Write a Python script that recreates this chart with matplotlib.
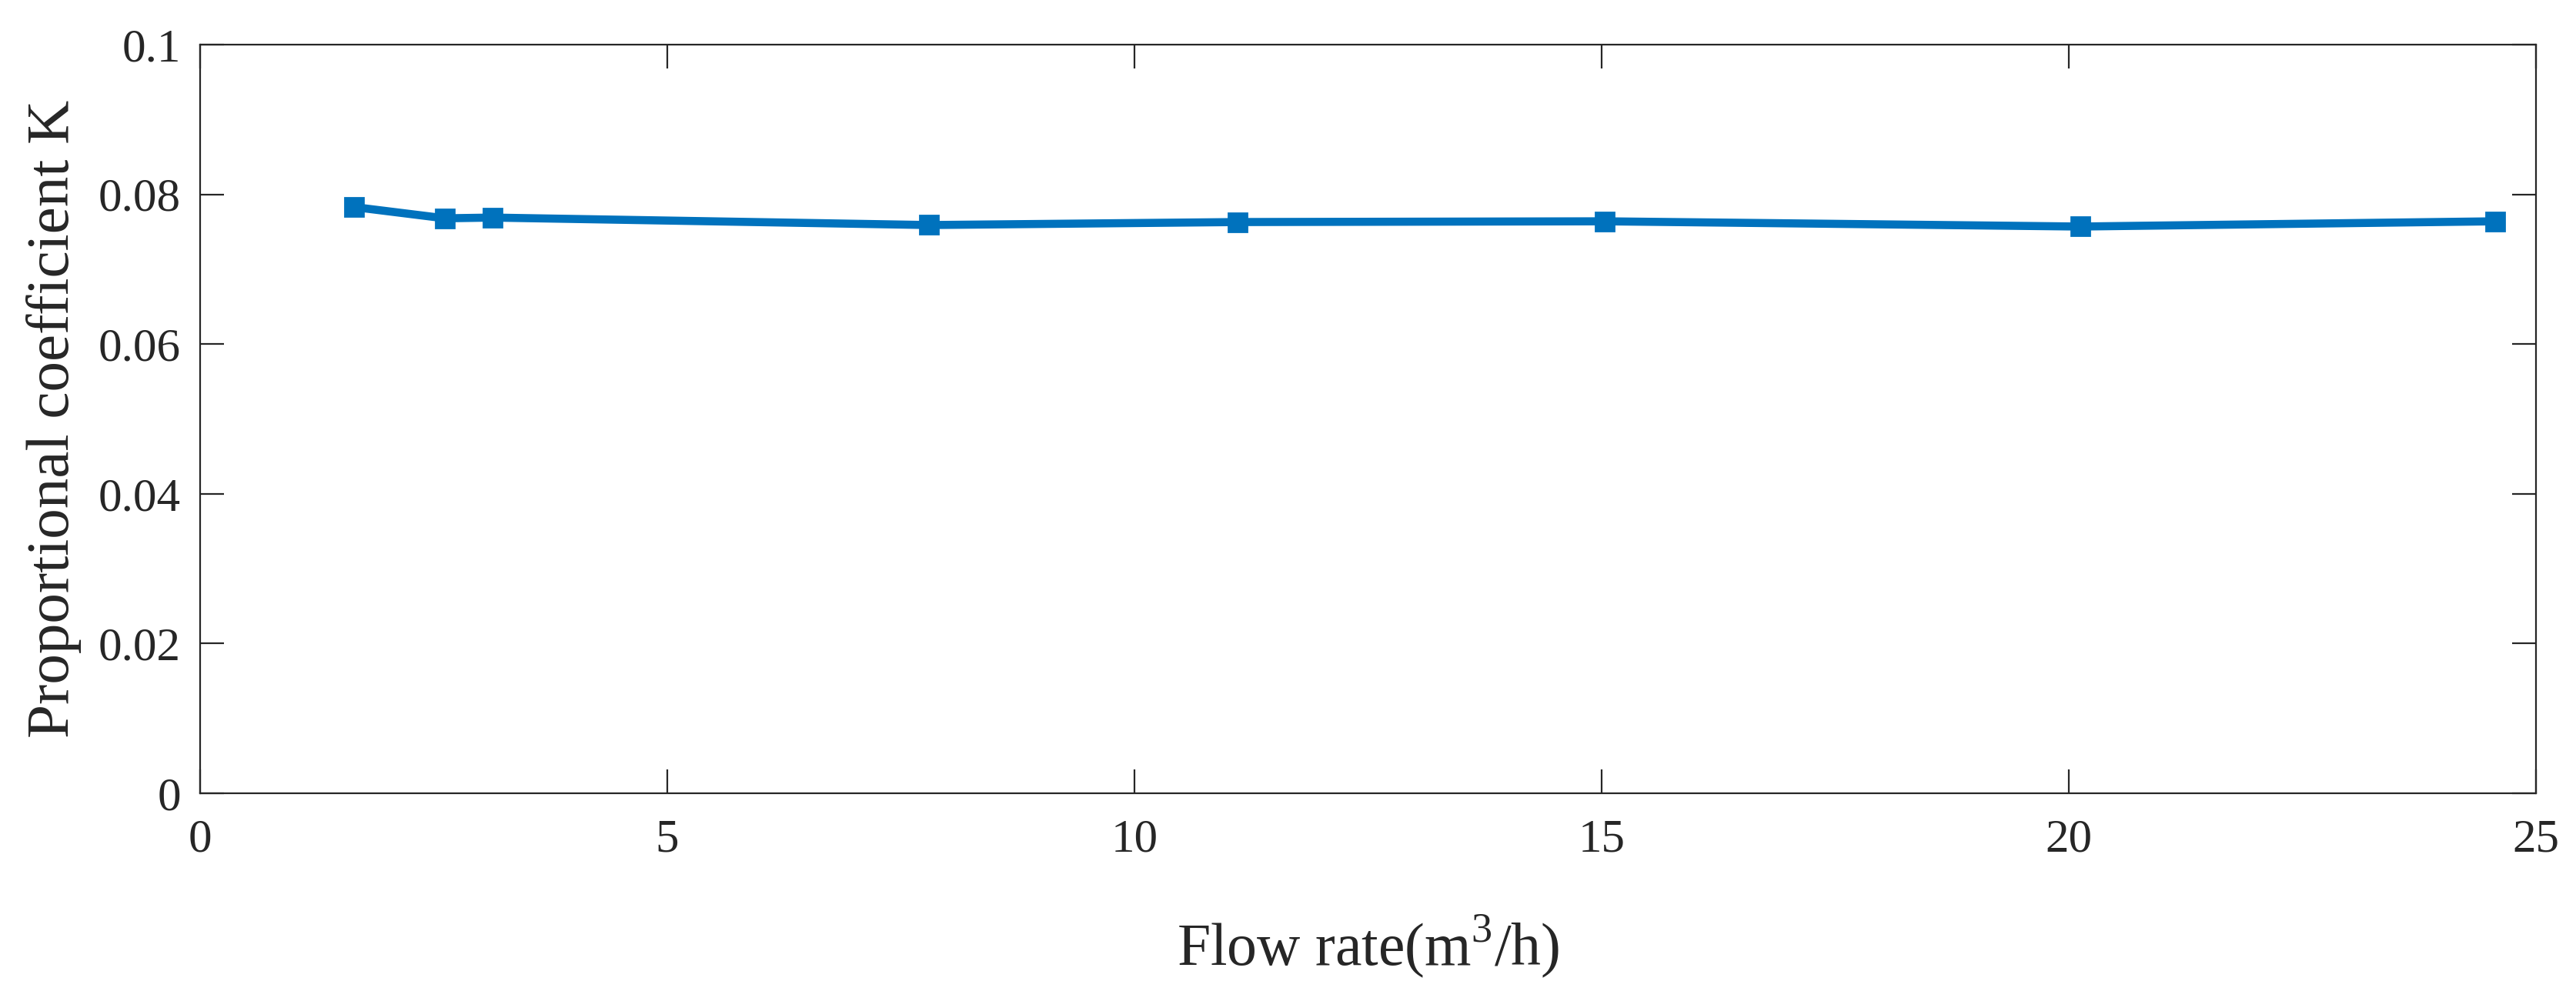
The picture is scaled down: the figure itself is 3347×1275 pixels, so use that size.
import matplotlib
matplotlib.use("Agg")
import matplotlib.pyplot as plt

# Flow rate (m3/h) and proportional coefficient K.
flow_rate = [1.65, 2.62, 3.13, 7.8, 11.1, 15.03, 20.12, 24.56]
coeff_k = [0.0783, 0.0768, 0.0769, 0.0759, 0.0763, 0.0764, 0.0757, 0.0764]

x_ticks = [0, 5, 10, 15, 20, 25]
y_ticks = [0, 0.02, 0.04, 0.06, 0.08, 0.1]
y_tick_labels = ["0", "0.02", "0.04", "0.06", "0.08", "0.1"]

plt.rcParams["font.family"] = ["Liberation Serif", "DejaVu Serif"]
plt.rcParams["mathtext.fontset"] = "custom"
plt.rcParams["mathtext.rm"] = "Liberation Serif"

fig = plt.figure(figsize=(16.74, 6.375), dpi=200)
ax = fig.add_axes([260 / 3348, 1 - 1031 / 1275, (3295 - 260) / 3348,
                   (1031 - 58) / 1275])

# Blue line with square markers, MATLAB default colour.
ax.plot(flow_rate, coeff_k, color="#0072BD", lw=3.8, marker="s",
        markersize=8.5, zorder=3)

ax.set_xlim(0, 25)
ax.set_ylim(0, 0.1)
ax.set_xticks(x_ticks)
ax.set_yticks(y_ticks)
ax.set_yticklabels(y_tick_labels)

# Box with inward ticks on all sides.
for side in ax.spines.values():
    side.set_color("#262626")
    side.set_linewidth(0.8)
ax.tick_params(direction="in", length=11, width=0.8, color="#262626",
               top=True, right=True, labelsize=22, labelcolor="#262626")
ax.tick_params(axis="x", pad=12)
ax.tick_params(axis="y", pad=9)

ax.set_xlabel("Flow rate(m$^3$/h)", fontsize=28, color="#262626",
              labelpad=24)
ax.set_ylabel("Proportional coefficient K", fontsize=28.5, color="#262626",
              labelpad=8)

fig.savefig("out.png", dpi=200)
